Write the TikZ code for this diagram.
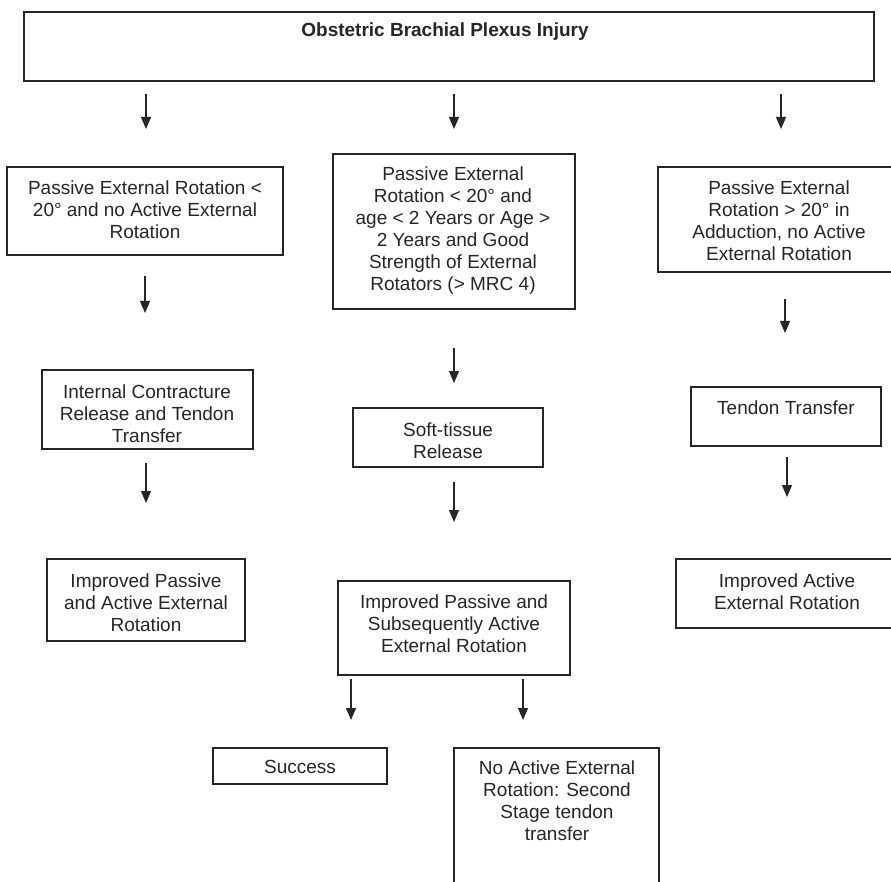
\documentclass[tikz,border=0pt]{standalone}
\usepackage{fontspec}
\setmainfont{Liberation Sans}
\usetikzlibrary{arrows.meta}
\begin{document}
\begin{tikzpicture}[x=1pt,y=-1pt,
  boxs/.style={draw=black!85,line width=1.4pt,rectangle,inner sep=0pt,fill=none},
  txt/.style={align=center,inner sep=0pt,text=black!85,font=\fontsize{19}{22}\selectfont},
  arr/.style={draw=black!85,line width=1.1pt,-{Triangle[width=10pt,length=12pt]}}]
\useasboundingbox (0,0) rectangle (891,882);
\clip (0,0) rectangle (891,882);
% boxes
\node[boxs,minimum width=850,minimum height=69] (top) at (449,46.5) {};
\node[txt,font=\fontsize{19}{22}\selectfont\bfseries] (ttop) at (445,32) {Obstetric Brachial Plexus Injury};

\node[boxs,minimum width=276,minimum height=88] (l1) at (145,211) {};
\node[txt] (tl1) at (145,210) {Passive External Rotation <\\20° and no Active External\\Rotation};

\node[boxs,minimum width=242,minimum height=155] (m1) at (454,231.5) {};
\node[txt] (tm1) at (453,230.5) {Passive External\\Rotation < 20° and\\age < 2 Years or Age >\\2 Years and Good\\Strength of External\\Rotators (> MRC 4)};

\node[boxs,minimum width=242,minimum height=105] (r1) at (779,219.5) {};
\node[txt] (tr1) at (779,221) {Passive External\\Rotation > 20° in\\Adduction, no Active\\External Rotation};

\node[boxs,minimum width=211,minimum height=79] (l2) at (147.5,409.5) {};
\node[txt] (tl2) at (147,414) {Internal Contracture\\Release and Tendon\\Transfer};

\node[boxs,minimum width=190,minimum height=59] (m2) at (448,437.5) {};
\node[txt] (tm2) at (448,441) {Soft-tissue\\Release};

\node[boxs,minimum width=190,minimum height=59] (r2) at (786,416.5) {};
\node[txt] (tr2) at (786,408) {Tendon Transfer};

\node[boxs,minimum width=198,minimum height=82] (l3) at (146,600) {};
\node[txt] (tl3) at (146,603) {Improved Passive\\and Active External\\Rotation};

\node[boxs,minimum width=232,minimum height=94] (m3) at (454,628) {};
\node[txt] (tm3) at (454,624) {Improved Passive and\\Subsequently Active\\External Rotation};

\node[boxs,minimum width=222,minimum height=69] (r3) at (787,593.5) {};
\node[txt] (tr3) at (787,592) {Improved Active\\External Rotation};

\node[boxs,minimum width=174,minimum height=36] (s) at (300,766) {};
\node[txt] (ts) at (300,767) {Success};

\node[boxs,minimum width=205,minimum height=152] (b) at (556.5,824) {};
\node[txt] (tb) at (557,801) {No Active External\\Rotation: Second\\Stage tendon\\transfer};

% arrow end points
\coordinate (a1s) at (146,94);  \coordinate (a1e) at (146,129);
\coordinate (a2s) at (454,94);  \coordinate (a2e) at (454,129);
\coordinate (a3s) at (781,94);  \coordinate (a3e) at (781,129);
\coordinate (a4s) at (145,276); \coordinate (a4e) at (145,313);
\coordinate (a5s) at (454,348); \coordinate (a5e) at (454,383);
\coordinate (a6s) at (785,299); \coordinate (a6e) at (785,333);
\coordinate (a7s) at (146,463); \coordinate (a7e) at (146,503);
\coordinate (a8s) at (454,482); \coordinate (a8e) at (454,522);
\coordinate (a9s) at (787,457); \coordinate (a9e) at (787,497);
\coordinate (a10s) at (351,679); \coordinate (a10e) at (351,720);
\coordinate (a11s) at (523,679); \coordinate (a11e) at (523,720);
\foreach \i in {1,...,11} {\draw[arr] (a\i s) -- (a\i e);}
\end{tikzpicture}
\end{document}
